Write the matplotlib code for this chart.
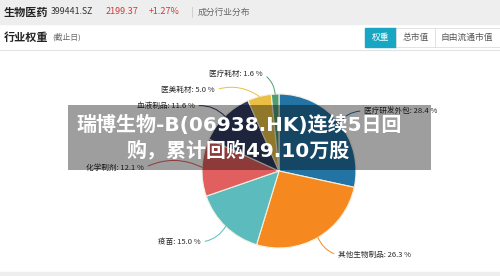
import numpy as np
import matplotlib
matplotlib.use('Agg')
import matplotlib.pyplot as plt
from matplotlib.patches import Rectangle

plt.rcParams['font.family'] = ['Noto Sans CJK SC', 'DejaVu Sans']

# 行业权重数据
industries = ['医疗研发外包', '其他生物制品', '疫苗', '化学制剂', '血液制品', '医美耗材', '医疗耗材']
weights = [28.4, 26.3, 15.0, 12.1, 11.6, 5.0, 1.6]
colors = ['#2373a4', '#f5891f', '#5cbcbd', '#e25f5f', '#2f3b62', '#e9c043', '#4f9e72']

# 标签位置 (图片像素坐标, 标签文字的靠近饼图一端)
label_pos = [(364, 111), (338, 255), (201, 242), (144, 168), (195, 106), (215, 90), (263, 74)]

W, H = 500, 276
fig = plt.figure(figsize=(W / 100, H / 100), dpi=100)

# 背景层, 像素坐标
bg = fig.add_axes([0, 0, 1, 1])
bg.set_xlim(0, W)
bg.set_ylim(H, 0)
bg.axis('off')

bg.add_patch(Rectangle((0, 0), W, 24, color='#eeeeee', zorder=0))
bg.add_patch(Rectangle((0, 272), W, 4, color='#eeeeee', zorder=0))
bg.plot([0, W], [49.5, 49.5], color='#e2e2e2', lw=0.8)

bg.text(4, 12, '生物医药', fontsize=8, fontweight='bold', color='#222222', va='center')
bg.text(51, 12, '399441.SZ', fontsize=6.3, color='#333333', va='center')
bg.text(106, 12, '2199.37', fontsize=6.5, color='#d03a3a', va='center')
bg.text(149, 12, '+1.27%', fontsize=6.5, color='#d03a3a', va='center')
bg.plot([192, 192], [7, 17], color='#cccccc', lw=0.6)
bg.text(198, 12, '成分行业分布', fontsize=6.3, color='#666666', va='center')

bg.text(4, 37, '行业权重', fontsize=8, fontweight='bold', color='#222222', va='center')
bg.text(52, 37, '(截止日)', fontsize=5.6, color='#666666', va='center')

# 按钮
bg.add_patch(Rectangle((365, 28), 31, 19, color='#19a6c2', zorder=1))
bg.text(380.5, 37.5, '权重', fontsize=6.3, color='white', ha='center', va='center')
bg.add_patch(Rectangle((396, 28), 39, 19, fc='white', ec='#dddddd', lw=0.6, zorder=1))
bg.text(415.5, 37.5, '总市值', fontsize=6.3, color='#555555', ha='center', va='center')
bg.add_patch(Rectangle((435, 28), 70, 19, fc='white', ec='#dddddd', lw=0.6, zorder=1))
bg.text(441, 37.5, '自由流通市值', fontsize=6.3, color='#555555', ha='left', va='center')

# 饼图
cx, cy, r = 279, 171, 77
pax = fig.add_axes([(cx - r) / W, (H - cy - r) / H, 2 * r / W, 2 * r / H])
wedges, _ = pax.pie(weights, colors=colors, startangle=90, counterclock=False,
                    wedgeprops=dict(edgecolor='#f4f0e0', linewidth=0.8))
pax.set_xlim(-1, 1)
pax.set_ylim(-1, 1)
pax.set_aspect('equal')

for w, name, val, c, (lx, ly) in zip(wedges, industries, weights, colors, label_pos):
    ang = np.deg2rad((w.theta1 + w.theta2) / 2)
    x0, y0 = np.cos(ang), np.sin(ang)
    left = lx < cx
    rad = -0.25 if left else 0.25
    if y0 < 0:
        rad = -rad
    pax.annotate(f'{name}: {val:.1f} %', xy=(x0, y0), xycoords='data',
                 xytext=(lx, H - ly), textcoords='figure pixels',
                 ha='right' if left else 'left', va='center',
                 fontsize=5.5, color='#2a2a2a',
                 arrowprops=dict(arrowstyle='-', color=c, lw=0.7, shrinkA=1, shrinkB=0,
                                 relpos=(1, 0.5) if left else (0, 0.5),
                                 connectionstyle=f'arc3,rad={rad}'),
                 annotation_clip=False)

# 灰色遮罩与标题
ov = fig.add_axes([0, 0, 1, 1])
ov.set_xlim(0, W)
ov.set_ylim(H, 0)
ov.axis('off')
ov.patch.set_alpha(0)
ov.add_patch(Rectangle((68, 105), 363, 65, color='black', alpha=0.38, lw=0))
title_font = ['DejaVu Sans', 'Noto Sans CJK SC']
ov.text(239, 125, '瑞博生物-B(06938.HK)连续5日回', fontsize=14.4, fontweight='bold',
        family=title_font, color='white', ha='center', va='center')
ov.text(238.5, 151, '购，累计回购49.10万股', fontsize=14.4, fontweight='bold',
        family=title_font, color='white', ha='center', va='center')

fig.savefig('out.png', dpi=100)
